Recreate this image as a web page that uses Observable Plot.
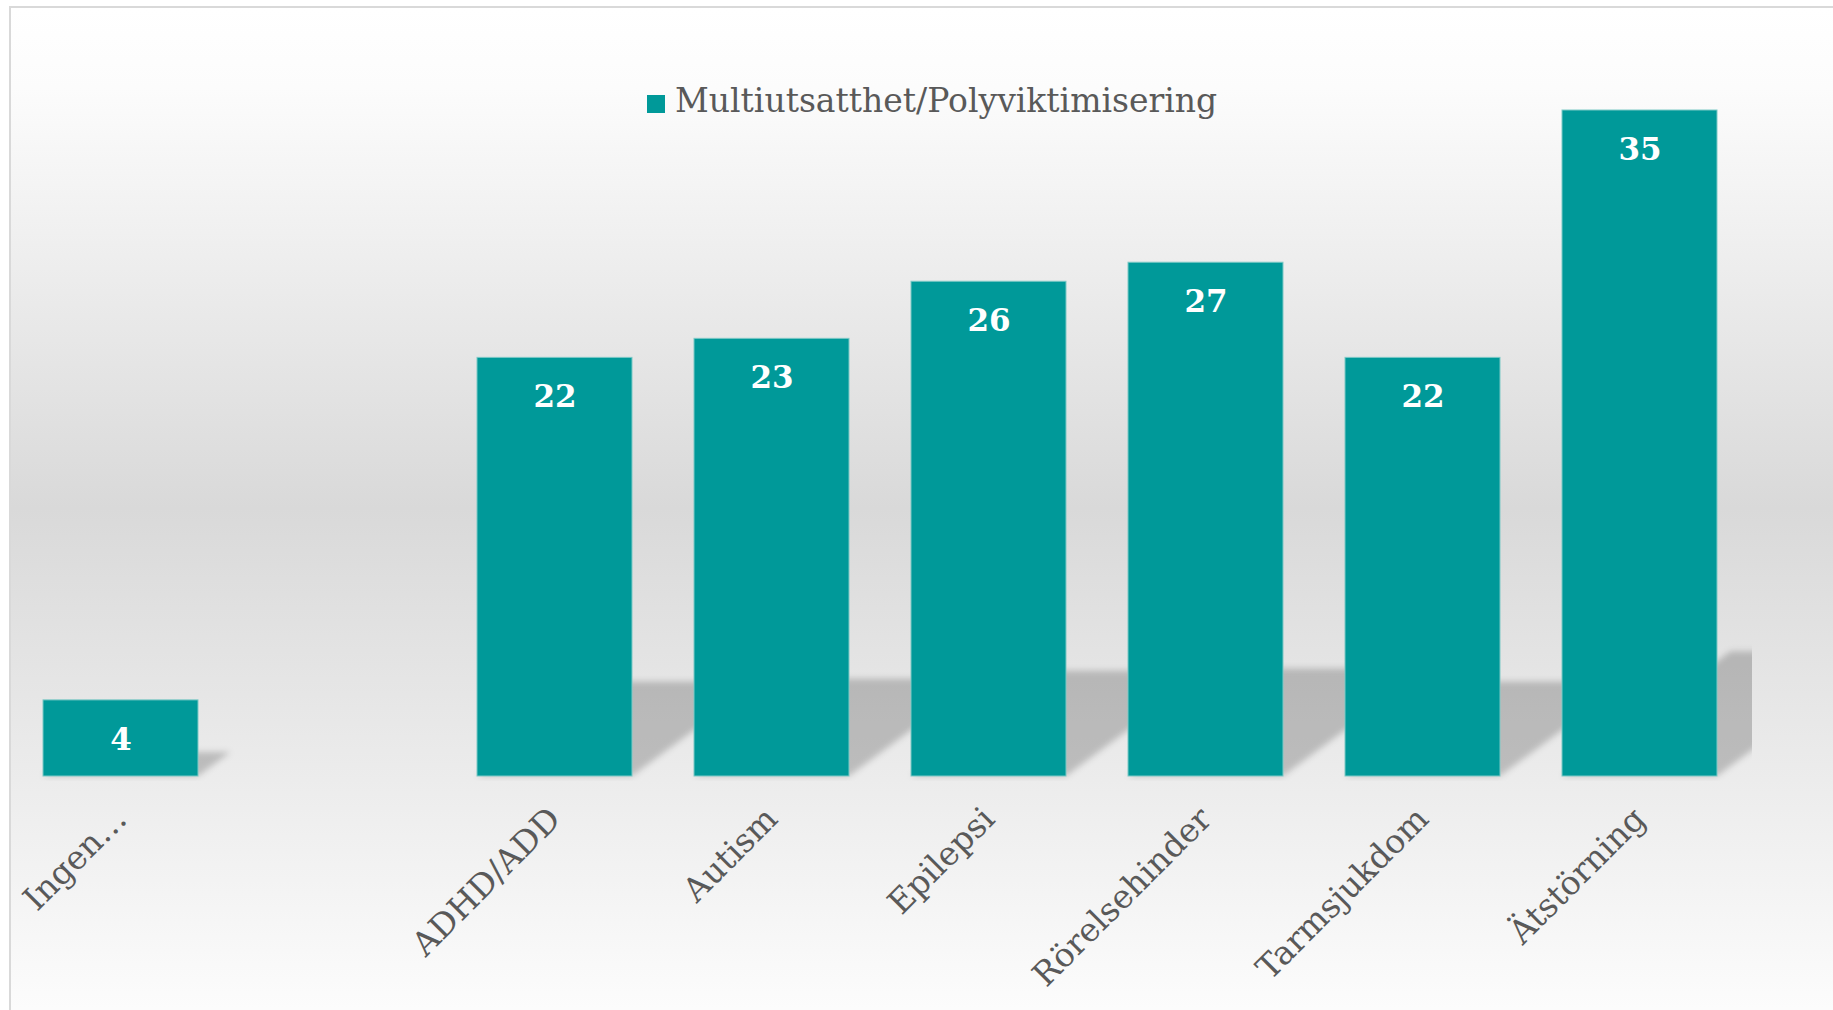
<!DOCTYPE html>
<html>
<head>
<meta charset="utf-8">
<script src="https://cdn.jsdelivr.net/npm/d3@7"></script>
<script src="https://cdn.jsdelivr.net/npm/@observablehq/plot@0.6"></script>
<style>
  html, body { margin: 0; padding: 0; width: 1833px; height: 1010px; overflow: hidden; background: #fff; }
  #frame {
    position: absolute; left: 9px; top: 6px; width: 1900px; height: 1100px;
    box-sizing: border-box; border-left: 2px solid #d9d9d9; border-top: 2px solid #d9d9d9;
    background: linear-gradient(to bottom, #ffffff 0px, #fcfcfc 80px, #d9d9d9 500px, #fcfcfc 1000px, #ffffff 1100px);
  }
  #chart { position: absolute; left: 0; top: 0; }
  #legend {
    position: absolute; left: 647px; top: 81px; display: flex; align-items: center;
    font-family: "DejaVu Serif", serif; font-size: 33px; color: #595959; white-space: nowrap;
  }
  #legend .sw { display: inline-block; width: 18px; height: 18px; background: #009999; margin-right: 10px; margin-top: 6px; }
</style>
</head>
<body>
<div id="frame"></div>
<div id="chart"></div>
<div id="legend"><span class="sw"></span><span>Multiutsatthet/Polyviktimisering</span></div>
<script>
const categories = ["Ingen…", "", "ADHD/ADD", "Autism", "Epilepsi", "Rörelsehinder", "Tarmsjukdom", "Ätstörning"];
const values = [4, null, 22, 23, 26, 27, 22, 35];
const seriesName = "Multiutsatthet/Polyviktimisering";

const data = categories.map((c, i) => ({category: c, value: values[i]})).filter(d => d.value != null);

const W = 1833, H = 1010;
const chart = Plot.plot({
  width: W,
  height: H,
  marginLeft: 11,
  marginRight: 84,
  marginTop: 110,
  marginBottom: 234,
  style: {background: "transparent", overflow: "visible"},
  x: {type: "band", domain: categories, paddingInner: 0.287, paddingOuter: 0.1435, axis: null},
  y: {domain: [0, 35], axis: null},
  marks: [
    Plot.barY(data, {x: "category", y: "value", fill: "#009999", stroke: "#7cc9c6", strokeWidth: 1}),
    Plot.text(data, {x: "category", y: "value", text: d => String(d.value), dy: 39.5,
      fill: "white", fontSize: 31, fontWeight: "bold", fontFamily: "DejaVu Serif"}),
    Plot.axisX({tickRotate: -45, tickSize: 0, tickPadding: 37, fontSize: 33,
      fontFamily: "DejaVu Serif", color: "#595959", label: null})
  ]
});
document.getElementById("chart").appendChild(chart);

// perspective shadow derived from the rendered bars
const xr = chart.scale("x").range;
const base = chart.scale("y").apply(0);
const svg = d3.select(chart);
const defs = svg.insert("defs", ":first-child");
defs.append("filter").attr("id", "shblur").attr("x", "-30%").attr("y", "-30%").attr("width", "160%").attr("height", "160%")
  .append("feGaussianBlur").attr("stdDeviation", 3);
defs.append("clipPath").attr("id", "shclip").append("rect")
  .attr("x", xr[0]).attr("y", 0).attr("width", xr[1] - xr[0] + 3).attr("height", base + 5);
const barG = svg.select('g[aria-label="bar"]');
const shadowG = svg.insert("g", 'g[aria-label="bar"]').attr("clip-path", "url(#shclip)");
const inner = shadowG.append("g").attr("filter", "url(#shblur)").attr("transform", barG.attr("transform"));
barG.selectAll("rect").each(function() {
  const x = +this.getAttribute("x"), y = +this.getAttribute("y");
  const w = +this.getAttribute("width"), h = +this.getAttribute("height");
  const b = y + h;
  const sh = 0.346 * h / (1 + 0.00127 * h);
  const dx = 1.35 * sh;
  inner.append("polygon")
    .attr("points", `${x},${b} ${x + w},${b} ${x + w + dx},${b - sh} ${x + dx},${b - sh}`)
    .attr("fill", "#000").attr("fill-opacity", 0.2);
});
</script>
</body>
</html>
